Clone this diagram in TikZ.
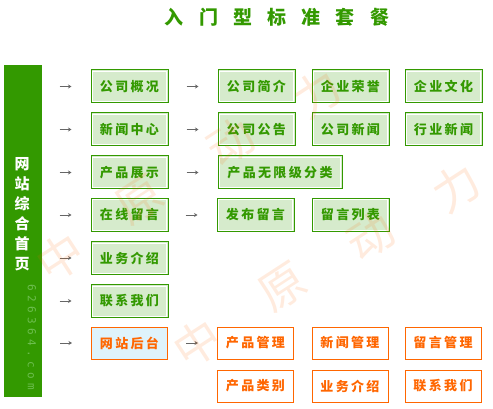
\documentclass[tikz,border=0pt]{standalone}
\usepackage{fontspec}
\setmainfont{Liberation Sans}
\newfontfamily\cjk[LetterSpace=18]{Noto Sans CJK SC}
\newfontfamily\cjktitle[LetterSpace=80]{Noto Sans CJK SC}
\newfontfamily\cjkmark{Noto Sans CJK SC}
\newfontfamily\urlfont[LetterSpace=40]{DejaVu Sans Mono}
\usetikzlibrary{arrows.meta}
\definecolor{leaf}{HTML}{339900}
\definecolor{leaffill}{HTML}{D6EBCC}
\definecolor{rust}{HTML}{FF6600}
\definecolor{sky}{HTML}{DFF3FB}
\definecolor{urlgreen}{HTML}{6DBE4F}

\begin{document}
\begin{tikzpicture}[x=1pt,y=-1pt,
gbox/.style={draw=leaf,fill=leaffill,line width=1pt,minimum width=77pt,
minimum height=33pt,inner sep=0pt,text=leaf,
font=\cjk\bfseries\fontsize{13}{13}\selectfont,
path picture={\draw[white,line width=1pt]
([shift={(1.5pt,-1.5pt)}]path picture bounding box.north west) rectangle
([shift={(-1.5pt,1.5pt)}]path picture bounding box.south east);}},
obox/.style={draw=rust,fill=white,line width=1pt,minimum width=76pt,
minimum height=32pt,inner sep=0pt,text=rust,
font=\cjk\bfseries\fontsize{13}{13}\selectfont},
arr/.style={-{Stealth[length=3.5pt,width=4pt]},black!60,line width=0.9pt}]
\useasboundingbox (0,0) rectangle (493,409);
% title and left bar
\node[text=leaf,font=\cjktitle\bfseries\fontsize{19}{19}\selectfont] (title) at (277,17) {入门型标准套餐};
\node[fill=leaf,minimum width=38pt,minimum height=332pt,inner sep=0pt] (bar) at (23,231) {};
\node[text=white,align=center,font=\cjkmark\bfseries\fontsize{15}{20}\selectfont] (home) at (22,214) {网\\站\\综\\合\\首\\页};
\node[text=urlgreen,rotate=-90,font=\urlfont\fontsize{11}{11}\selectfont] (site) at (32,337) {626364.com};
% first column
\node[gbox] (about) at (129.5,86.5) {公司概况};
\node[gbox] (news) at (129.5,129.5) {新闻中心};
\node[gbox] (products) at (129.5,172.5) {产品展示};
\node[gbox] (guestbook) at (129.5,215) {在线留言};
\node[gbox] (service) at (129.5,258) {业务介绍};
\node[gbox] (contact) at (129.5,301) {联系我们};
\node[obox,fill=sky] (admin) at (129.5,343) {网站后台};
% second level
\node[gbox] (intro) at (256.5,86.5) {公司简介};
\node[gbox] (honor) at (350.5,86.5) {企业荣誉};
\node[gbox] (culture) at (443.5,86.5) {企业文化};
\node[gbox] (notice) at (256.5,129.5) {公司公告};
\node[gbox] (cnews) at (350.5,129.5) {公司新闻};
\node[gbox] (inews) at (443.5,129.5) {行业新闻};
\node[gbox,minimum width=124pt] (category) at (280,172.5) {产品无限级分类};
\node[gbox] (post) at (255.5,215) {发布留言};
\node[gbox] (msglist) at (350.5,215) {留言列表};
\node[obox] (prodmgr) at (255.5,343) {产品管理};
\node[obox] (newsmgr) at (350,343) {新闻管理};
\node[obox] (msgmgr) at (443,343) {留言管理};
\node[obox] (prodcat) at (255.5,386) {产品类别};
\node[obox] (servmgr) at (350,386) {业务介绍};
\node[obox] (contmgr) at (443,386) {联系我们};
% arrows
\foreach \n in {about,news,products,guestbook,service,contact,admin}
  \draw[arr] ([xshift=-31pt]\n.west) -- ([xshift=-19pt]\n.west);
\foreach \n in {intro,notice,category,post,prodmgr}
  \draw[arr] ([xshift=-31pt]\n.west) -- ([xshift=-19pt]\n.west);
% watermark
\foreach \c/\x/\y [count=\i] in {中/60/257,原/140/200,动/230/143,力/317/93,
  中/197/343,原/283/287,动/370/237,力/456/187}
  \node[rotate=33,text=rust,text opacity=0.13,
  font=\cjkmark\fontsize{46}{46}\selectfont] (mark\i) at (\x,\y) {\c};
\end{tikzpicture}
\end{document}
